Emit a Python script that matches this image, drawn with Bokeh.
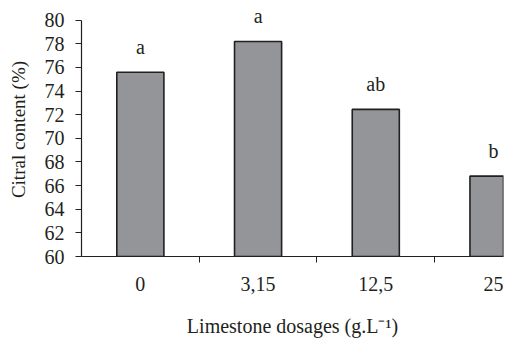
from bokeh.plotting import figure
from bokeh.models import Range1d, FixedTicker, ColumnDataSource, LabelSet
from bokeh.embed import file_html
from bokeh.resources import INLINE

categories = ["0", "3,15", "12,5", "25"]
citral = [75.6, 78.2, 72.45, 66.8]
letters = ["a", "a", "ab", "b"]
y_ticks = [60, 62, 64, 66, 68, 70, 72, 74, 76, 78, 80]

FONT = "Liberation Serif"
INK = "#231f20"

xpos = [i + 0.5 for i in range(len(categories))]
src = ColumnDataSource(dict(x=xpos, top=citral, lab=letters))

p = figure(width=506, height=339, output_backend="svg", toolbar_location=None,
           x_range=Range1d(0, 3.585), y_range=Range1d(60, 81.5),
           min_border_left=81, min_border_top=2, min_border_bottom=81,
           min_border_right=3)
p.outline_line_color = None
p.grid.visible = False
p.background_fill_color = "white"
p.border_fill_color = "white"

p.vbar(x="x", top="top", bottom=60, width=0.4, source=src,
       fill_color="#939598", line_color=INK, line_width=1.6)

labels = LabelSet(x="x", y="top", text="lab", source=src, text_align="center",
                  text_baseline="bottom", y_offset=14, text_font=FONT,
                  text_font_size="20px", text_color=INK)
p.add_layout(labels)

p.yaxis.ticker = FixedTicker(ticks=y_ticks, minor_ticks=[])
p.yaxis.bounds = (y_ticks[0], y_ticks[-1])
p.yaxis.axis_label = "Citral content (%)"
p.xaxis.ticker = FixedTicker(ticks=xpos, minor_ticks=[1, 2, 3])
p.xaxis.major_label_overrides = {x: c for x, c in zip(xpos, categories)}
p.xaxis.axis_label = "Limestone dosages (g.L\u207b\u00b9)"
p.xaxis.major_tick_line_color = None
p.xaxis.minor_tick_in = 0
p.xaxis.minor_tick_out = 6

for ax in (p.xaxis, p.yaxis):
    ax.axis_line_color = INK
    ax.axis_line_width = 1.2
    ax.major_label_text_font = FONT
    ax.major_label_text_font_size = "20px"
    ax.major_label_text_color = INK
    ax.axis_label_text_font = FONT
    ax.axis_label_text_font_size = "20px"
    ax.axis_label_text_font_style = "normal"
    ax.axis_label_text_color = INK
    ax.minor_tick_line_color = INK

p.yaxis.axis_label_text_font_size = "19px"
p.yaxis.major_tick_line_color = INK
p.yaxis.major_tick_in = 0
p.yaxis.major_tick_out = 6
p.yaxis.minor_tick_line_color = None
p.yaxis.major_label_standoff = 11
p.yaxis.axis_label_standoff = 13
p.xaxis.major_label_standoff = 14
p.xaxis.axis_label_standoff = 21

open("out.html", "w").write(file_html(p, INLINE))
